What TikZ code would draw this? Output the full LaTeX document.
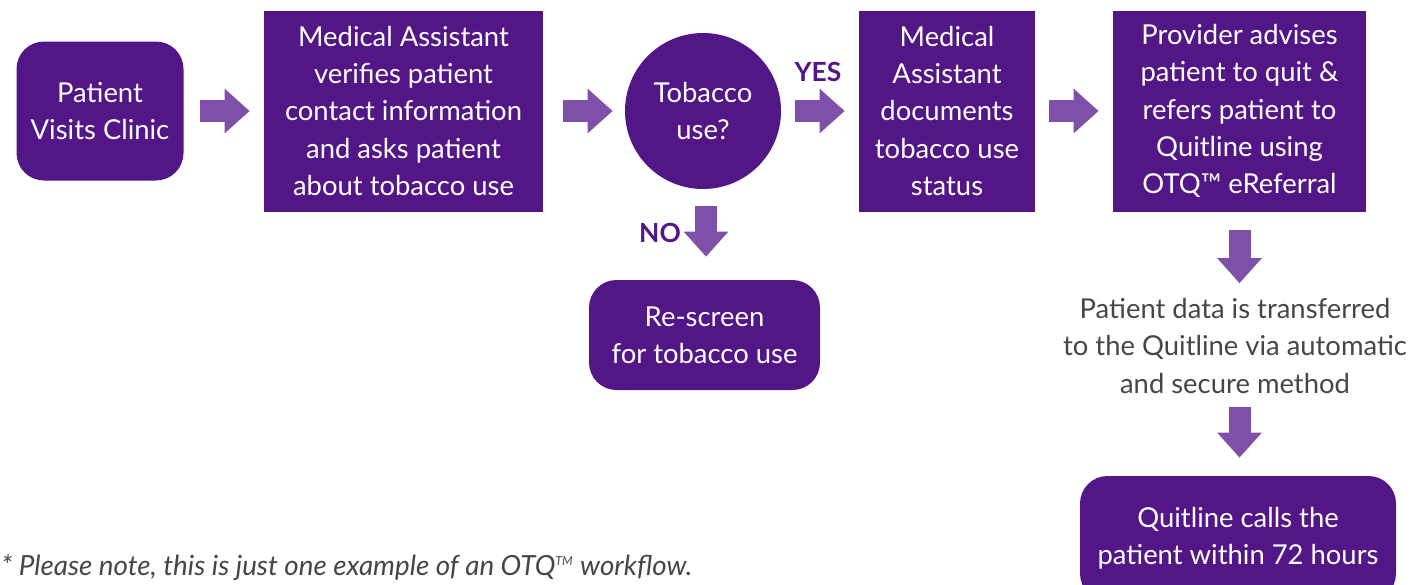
\documentclass[tikz,border=0pt]{standalone}
\usepackage{fontspec}
\setmainfont{Lato}
\usetikzlibrary{arrows.meta}
\definecolor{otqpurple}{RGB}{83,22,135}
\definecolor{otqarrow}{RGB}{127,80,170}
\definecolor{otqgray}{RGB}{70,70,70}
\begin{document}
\begin{tikzpicture}[
  every node/.style={font=\fontsize{15.6}{21.2}\selectfont},
  step box/.style={fill=otqpurple,text=white,align=center,inner sep=0pt},
  round box/.style={step box,rounded corners=0.55cm},
  flow/.style={draw=otqarrow,line width=0.44cm,-{Triangle[width=0.86cm,length=0.5cm]}},
  answer/.style={text=otqpurple,font=\fontsize{15}{17}\selectfont\bfseries}]
\useasboundingbox (0,0) rectangle (28.24,-11.68);
% steps of the workflow
\node[round box,minimum width=3.34cm,minimum height=2.78cm] (visit) at (2.00,-2.22) {Patient\\Visits Clinic};
\node[step box,minimum width=5.58cm,minimum height=4.02cm] (verify) at (8.07,-2.22) {Medical Assistant\\verifies patient\\contact information\\and asks patient\\about tobacco use};
\node[step box,circle,minimum size=3.12cm] (tobacco) at (14.06,-2.22) {Tobacco\\use?};
\node[step box,minimum width=3.52cm,minimum height=4.02cm] (document) at (18.94,-2.22) {Medical\\Assistant\\documents\\tobacco use\\status};
\node[step box,minimum width=5.06cm,minimum height=4.02cm] (advise) at (24.79,-2.22) {Provider advises\\patient to quit \&\\refers patient to\\Quitline using\\OTQ™ eReferral};
\node[round box,minimum width=4.62cm,minimum height=2.20cm] (rescreen) at (14.09,-6.70) {Re-screen\\for tobacco use};
\node[text=otqgray,align=center,inner sep=0pt] (transfer) at (24.70,-6.92) {Patient data is transferred\\to the Quitline via automatic\\and secure method};
\node[round box,minimum width=6.32cm,minimum height=2.50cm] (calls) at (24.76,-10.77) {Quitline calls the\\patient within 72 hours};
% yes / no
\node[answer] (yes) at (16.36,-1.44) {YES};
\node[answer] (no) at (13.20,-4.66) {NO};
% arrows
\draw[flow,shorten <=0.32cm,shorten >=0.28cm] (visit) -- (verify);
\draw[flow,shorten <=0.40cm,shorten >=0.24cm] (verify) -- (tobacco);
\draw[flow,shorten <=0.28cm,shorten >=0.28cm] (tobacco) -- (document);
\draw[flow,shorten <=0.28cm,shorten >=0.28cm] (document) -- (advise);
\draw[flow,shorten <=0.34cm,shorten >=0.46cm] ([xshift=0.06cm]tobacco.south) -- ([xshift=0.06cm]tobacco.south |- rescreen.north);
\draw[flow,shorten <=0.36cm,shorten >=0.30cm] (advise.south) -- (advise.south |- transfer.north);
\draw[flow,shorten <=0.26cm,shorten >=0.36cm] (advise.south |- transfer.south) -- (advise.south |- calls.north);
% footnote
\node[anchor=base west,text=otqgray,inner sep=0pt,font=\fontsize{15.8}{17}\selectfont\itshape] (note) at (0.02,-11.50) {* Please note, this is just one example of an OTQ\textsuperscript{\scriptsize TM} workflow.};
\end{tikzpicture}
\end{document}
